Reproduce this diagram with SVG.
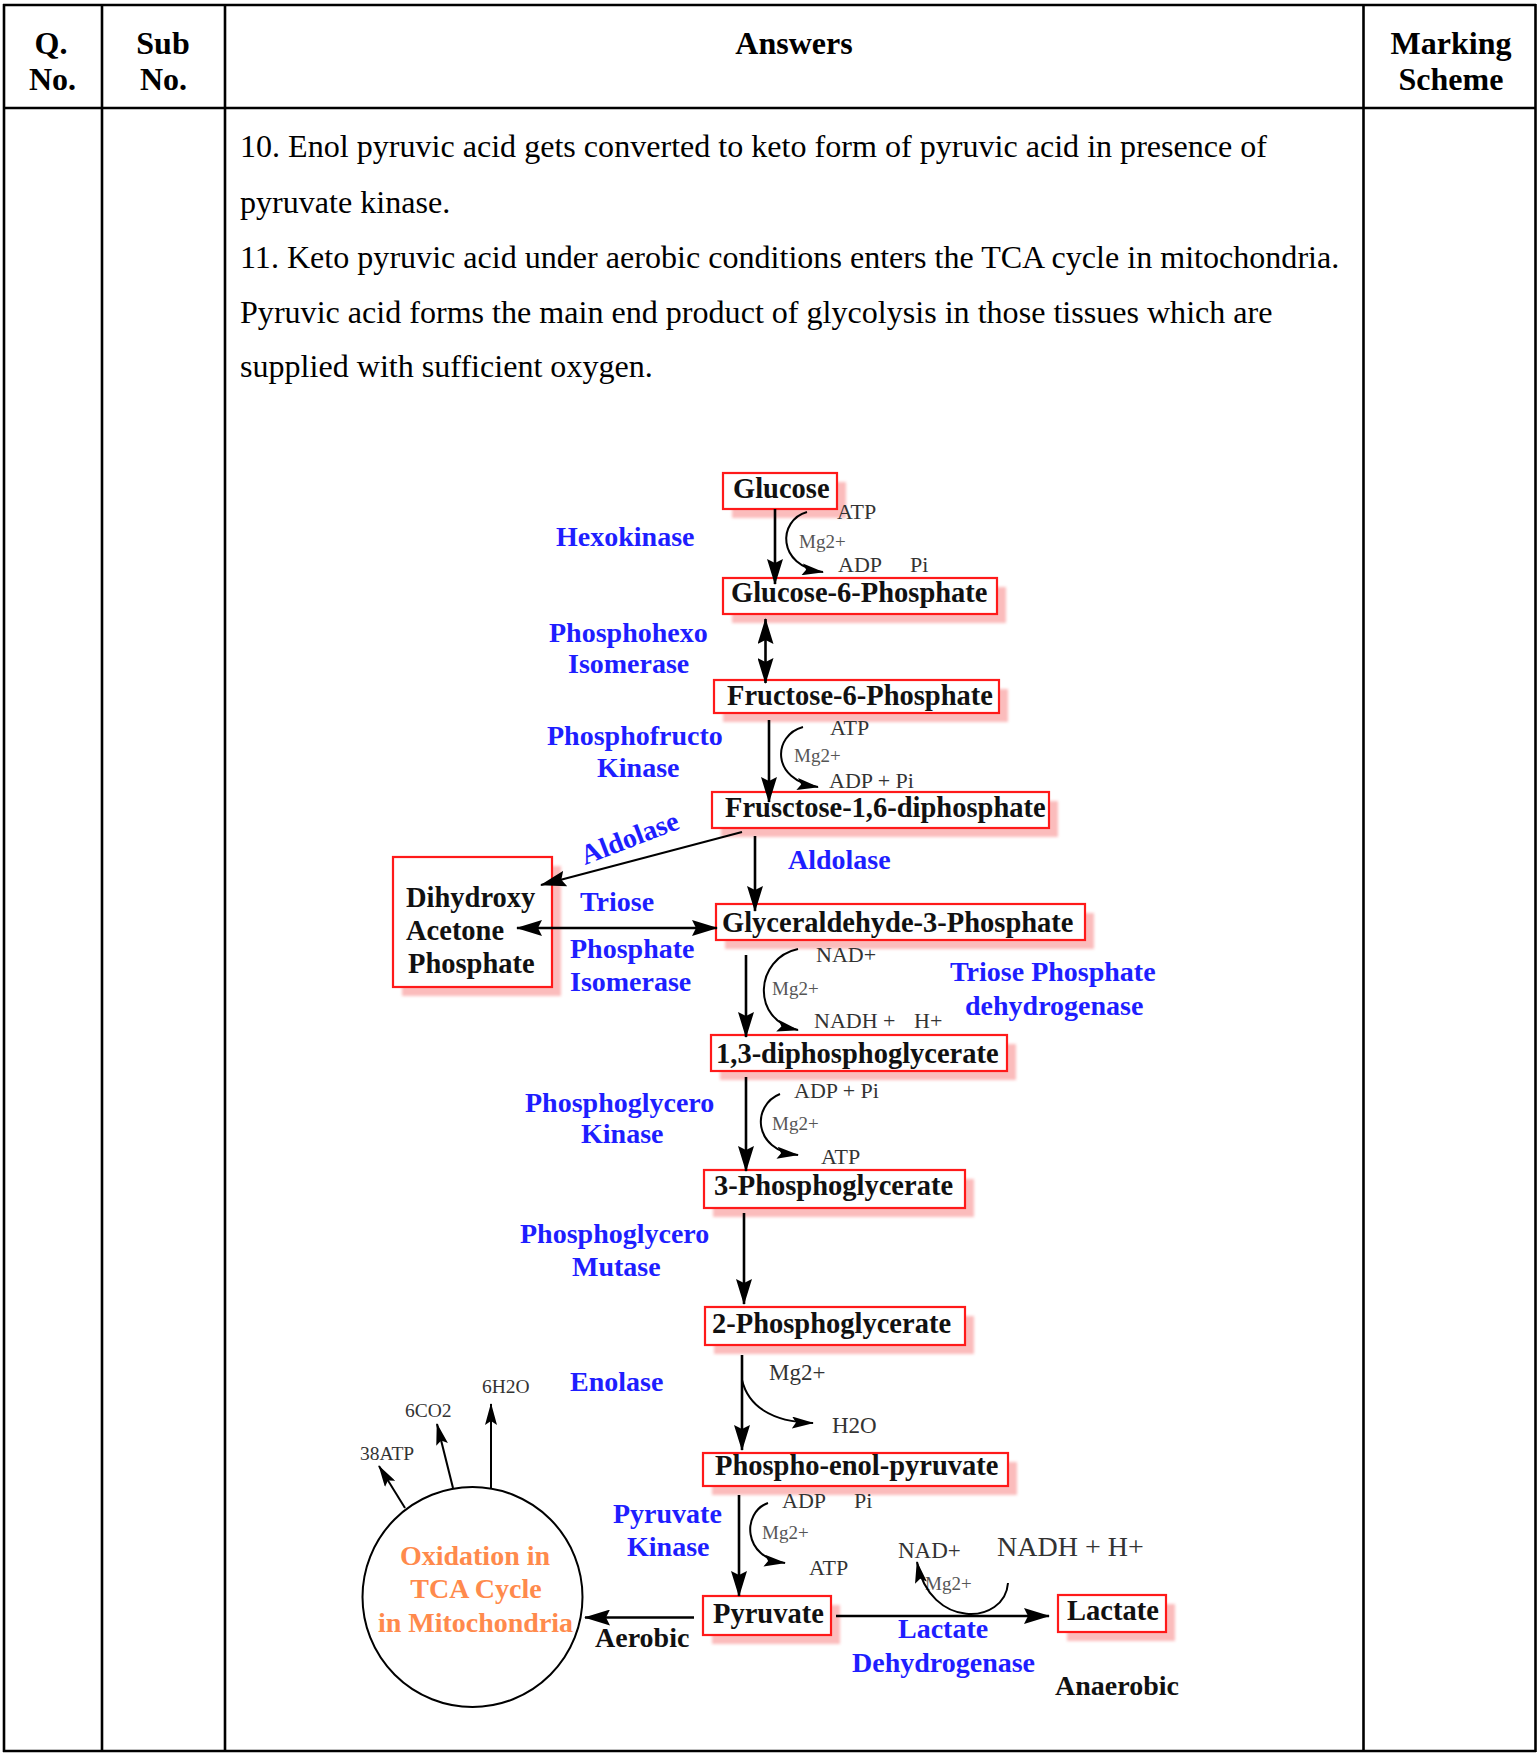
<svg xmlns="http://www.w3.org/2000/svg" width="1537" height="1753" viewBox="0 0 1537 1753">
<defs>
<style>
.tb{stroke:#000;stroke-width:2.6;fill:none}
.hd{font-family:"Liberation Serif","Times New Roman",serif;font-weight:bold;font-size:32px;fill:#000;text-anchor:middle}
.bd{font-family:"Liberation Serif","Times New Roman",serif;font-size:32.1px;fill:#000}
.box{fill:#fff;stroke:#ff1a1a;stroke-width:2.2}
.sh{fill:#fbbcbc;filter:url(#blur)}
.nl{font-family:"Liberation Serif","Times New Roman",serif;font-weight:bold;font-size:28.5px;fill:#111}
.en{font-family:"Liberation Serif","Times New Roman",serif;font-weight:bold;font-size:28px;fill:#1e1eff}
.bk{font-family:"Liberation Serif","Times New Roman",serif;font-weight:bold;font-size:28px;fill:#111}
.or{font-family:"Liberation Serif","Times New Roman",serif;font-weight:bold;font-size:28px;fill:#ff8a4c;text-anchor:middle}
.co{font-family:"Liberation Serif","Times New Roman",serif;font-size:22px;fill:#333}
.mg{font-family:"Liberation Serif","Times New Roman",serif;font-size:19px;fill:#555}
.sm{font-family:"Liberation Serif","Times New Roman",serif;font-size:19.5px;fill:#333}
.ln{stroke:#000;stroke-width:2.6;fill:none}
.cv{stroke:#000;stroke-width:2;fill:none}
</style>
<filter id="blur" x="-10%" y="-20%" width="120%" height="140%"><feGaussianBlur stdDeviation="1.5"/></filter>
<marker id="ah" viewBox="0 0 26 16" refX="25" refY="8" markerWidth="26" markerHeight="16" orient="auto-start-reverse" markerUnits="userSpaceOnUse"><path d="M0,0 L26,8 L0,16 L4,8 Z" fill="#000"/></marker>
<marker id="as" viewBox="0 0 22 12" refX="21" refY="6" markerWidth="22" markerHeight="12" orient="auto" markerUnits="userSpaceOnUse"><path d="M0,0 L22,6 L0,12 L4,6 Z" fill="#000"/></marker>
</defs>
<rect x="0" y="0" width="1537" height="1753" fill="#fff"/>

<g id="table">
<line class="tb" x1="3" y1="5" x2="1536" y2="5"/>
<line class="tb" x1="3" y1="108" x2="1536" y2="108"/>
<line class="tb" x1="3" y1="1751" x2="1536" y2="1751"/>
<line class="tb" x1="4" y1="4" x2="4" y2="1752"/>
<line class="tb" x1="102" y1="4" x2="102" y2="1752"/>
<line class="tb" x1="225" y1="4" x2="225" y2="1752"/>
<line class="tb" x1="1363.5" y1="4" x2="1363.5" y2="1752"/>
<line class="tb" x1="1535.5" y1="4" x2="1535.5" y2="1752"/>
<text class="hd" x="51" y="54">Q.</text>
<text class="hd" x="52.5" y="90">No.</text>
<text class="hd" x="163" y="54">Sub</text>
<text class="hd" x="163.5" y="90">No.</text>
<text class="hd" x="794" y="54">Answers</text>
<text class="hd" x="1451" y="54">Marking</text>
<text class="hd" x="1451" y="90">Scheme</text>
<text class="bd" x="240" y="157">10. Enol pyruvic acid gets converted to keto form of pyruvic acid in presence of</text>
<text class="bd" x="240" y="213">pyruvate kinase.</text>
<text class="bd" x="240" y="268">11. Keto pyruvic acid under aerobic conditions enters the TCA cycle in mitochondria.</text>
<text class="bd" x="240" y="323">Pyruvic acid forms the main end product of glycolysis in those tissues which are</text>
<text class="bd" x="240" y="377">supplied with sufficient oxygen.</text>
</g>

<g id="n-glucose"><rect class="sh" x="732" y="482" width="114" height="36"/><rect class="box" x="723" y="473" width="114" height="36"/><text class="nl" x="733" y="498">Glucose</text></g>
<g id="n-g6p"><rect class="sh" x="732" y="587" width="274" height="36"/><rect class="box" x="723" y="578" width="274" height="36"/><text class="nl" x="731" y="602">Glucose-6-Phosphate</text></g>
<g id="n-f6p"><rect class="sh" x="723" y="689" width="285" height="33"/><rect class="box" x="714" y="680" width="285" height="33"/><text class="nl" x="727" y="705">Fructose-6-Phosphate</text></g>
<g id="n-f16dp"><rect class="sh" x="721" y="801" width="337" height="36"/><rect class="box" x="712" y="792" width="337" height="36"/><text class="nl" x="725" y="817">Frusctose-1,6-diphosphate</text></g>
<g id="n-g3p"><rect class="sh" x="725" y="913" width="369" height="36"/><rect class="box" x="716" y="904" width="369" height="36"/><text class="nl" x="722" y="932">Glyceraldehyde-3-Phosphate</text></g>
<g id="n-dhap"><rect class="sh" x="402" y="866" width="159" height="130"/><rect class="box" x="393" y="857" width="159" height="130"/><text class="nl" x="406" y="907">Dihydroxy</text><text class="nl" x="406" y="940">Acetone</text><text class="nl" x="408" y="973">Phosphate</text></g>
<g id="n-13dpg"><rect class="sh" x="720" y="1044" width="296" height="36"/><rect class="box" x="711" y="1035" width="296" height="36"/><text class="nl" x="716" y="1063">1,3-diphosphoglycerate</text></g>
<g id="n-3pg"><rect class="sh" x="713" y="1179" width="261" height="38"/><rect class="box" x="704" y="1170" width="261" height="38"/><text class="nl" x="714" y="1195">3-Phosphoglycerate</text></g>
<g id="n-2pg"><rect class="sh" x="714" y="1316" width="260" height="38"/><rect class="box" x="705" y="1307" width="260" height="38"/><text class="nl" x="712" y="1333">2-Phosphoglycerate</text></g>
<g id="n-pep"><rect class="sh" x="712" y="1462" width="305" height="33"/><rect class="box" x="703" y="1453" width="305" height="33"/><text class="nl" x="715" y="1475">Phospho-enol-pyruvate</text></g>
<g id="n-pyruvate"><rect class="sh" x="712" y="1605" width="128" height="39"/><rect class="box" x="703" y="1596" width="128" height="39"/><text class="nl" x="713" y="1623">Pyruvate</text></g>
<g id="n-lactate"><rect class="sh" x="1067" y="1604" width="108" height="37"/><rect class="box" x="1058" y="1595" width="108" height="37"/><text class="nl" x="1067" y="1620">Lactate</text></g>
<g id="n-tca"><circle cx="472.5" cy="1597" r="110" fill="#fff" stroke="#000" stroke-width="2"/><text class="or" x="475" y="1565">Oxidation in</text><text class="or" x="476" y="1598">TCA Cycle</text><text class="or" x="475.5" y="1632">in Mitochondria</text></g>

<g id="labels">
<text class="en" x="556" y="546">Hexokinase</text>
<text class="en" x="549" y="642">Phosphohexo</text>
<text class="en" x="568" y="673">Isomerase</text>
<text class="en" x="547" y="745">Phosphofructo</text>
<text class="en" x="597" y="777">Kinase</text>
<text class="en" transform="translate(585,865) rotate(-21)">Aldolase</text>
<text class="en" x="788" y="869">Aldolase</text>
<text class="en" x="580" y="911">Triose</text>
<text class="en" x="570" y="958">Phosphate</text>
<text class="en" x="570" y="991">Isomerase</text>
<text class="en" x="950" y="981">Triose Phosphate</text>
<text class="en" x="965" y="1015">dehydrogenase</text>
<text class="en" x="525" y="1112">Phosphoglycero</text>
<text class="en" x="581" y="1143">Kinase</text>
<text class="en" x="520" y="1243">Phosphoglycero</text>
<text class="en" x="572" y="1276">Mutase</text>
<text class="en" x="570" y="1391">Enolase</text>
<text class="en" x="613" y="1523">Pyruvate</text>
<text class="en" x="627" y="1556">Kinase</text>
<text class="en" x="898" y="1638">Lactate</text>
<text class="en" x="852" y="1672">Dehydrogenase</text>
<text class="bk" x="595" y="1647">Aerobic</text>
<text class="bk" x="1055" y="1695">Anaerobic</text>

<text class="co" x="837" y="519">ATP</text>
<text class="mg" x="799" y="548">Mg2+</text>
<text class="co" x="838" y="572">ADP</text>
<text class="co" x="910" y="572">Pi</text>
<text class="co" x="830" y="735">ATP</text>
<text class="mg" x="794" y="762">Mg2+</text>
<text class="co" x="829" y="788">ADP + Pi</text>
<text class="co" x="816" y="962">NAD+</text>
<text class="mg" x="772" y="995">Mg2+</text>
<text class="co" x="814" y="1028">NADH +</text>
<text class="co" x="914" y="1028">H+</text>
<text class="co" x="794" y="1098">ADP + Pi</text>
<text class="mg" x="772" y="1130">Mg2+</text>
<text class="co" x="821" y="1164">ATP</text>
<text class="co" x="769" y="1380" style="font-size:23px">Mg2+</text>
<text class="co" x="832" y="1433" style="font-size:23px">H2O</text>
<text class="co" x="782" y="1508">ADP</text>
<text class="co" x="854" y="1508">Pi</text>
<text class="mg" x="762" y="1539">Mg2+</text>
<text class="co" x="809" y="1575">ATP</text>
<text class="co" x="898" y="1558" style="font-size:23px">NAD+</text>
<text class="co" x="997" y="1556" style="font-size:28px">NADH + H+</text>
<text class="mg" x="925" y="1590">Mg2+</text>
<text class="sm" x="482" y="1393">6H2O</text>
<text class="sm" x="405" y="1417">6CO2</text>
<text class="sm" x="360" y="1460">38ATP</text>
</g>

<g id="connectors">
<line class="ln" x1="775" y1="509" x2="775" y2="584" marker-end="url(#ah)"/>
<line class="ln" x1="765.5" y1="619" x2="765.5" y2="683" marker-start="url(#ah)" marker-end="url(#ah)"/>
<line class="ln" x1="769" y1="720" x2="769" y2="802" marker-end="url(#ah)"/>
<line class="ln" x1="755" y1="836" x2="755" y2="911" marker-end="url(#ah)"/>
<line class="ln" x1="742" y1="832" x2="541" y2="885" marker-end="url(#ah)" style="stroke-width:2.2"/>
<line class="ln" x1="517" y1="928" x2="717" y2="928" marker-start="url(#ah)" marker-end="url(#ah)"/>
<line class="ln" x1="746" y1="955" x2="746" y2="1037" marker-end="url(#ah)"/>
<line class="ln" x1="746" y1="1077" x2="746" y2="1171" marker-end="url(#ah)"/>
<line class="ln" x1="744" y1="1213" x2="744" y2="1304" marker-end="url(#ah)"/>
<line class="ln" x1="742" y1="1355" x2="742" y2="1450" marker-end="url(#ah)"/>
<line class="ln" x1="739" y1="1495" x2="739" y2="1596" marker-end="url(#ah)"/>
<line class="ln" x1="694" y1="1617.5" x2="585" y2="1617.5" marker-end="url(#ah)"/>
<line class="ln" x1="836" y1="1616" x2="1049" y2="1616" marker-end="url(#ah)"/>
<path class="cv" d="M807,512 C778,520 776,566 823,572" marker-end="url(#as)"/>
<path class="cv" d="M803,727 C773,735 770,780 818,787" marker-end="url(#as)"/>
<path class="cv" d="M798,949 C755,958 750,1020 798,1030" marker-end="url(#as)"/>
<path class="cv" d="M780,1094 C752,1105 752,1150 798,1155" marker-end="url(#as)"/>
<path class="cv" d="M742,1380 C748,1405 770,1422 813,1423" marker-end="url(#as)"/>
<path class="cv" d="M768,1503 C742,1512 742,1558 785,1563" marker-end="url(#as)"/>
<path class="cv" d="M1008,1583 C1005,1625 930,1630 917,1562" marker-end="url(#as)"/>
<line class="cv" x1="491" y1="1488" x2="491" y2="1404" marker-end="url(#as)"/>
<line class="cv" x1="453" y1="1488" x2="437" y2="1424" marker-end="url(#as)"/>
<line class="cv" x1="405" y1="1508" x2="379" y2="1466" marker-end="url(#as)"/>
</g>
</svg>
